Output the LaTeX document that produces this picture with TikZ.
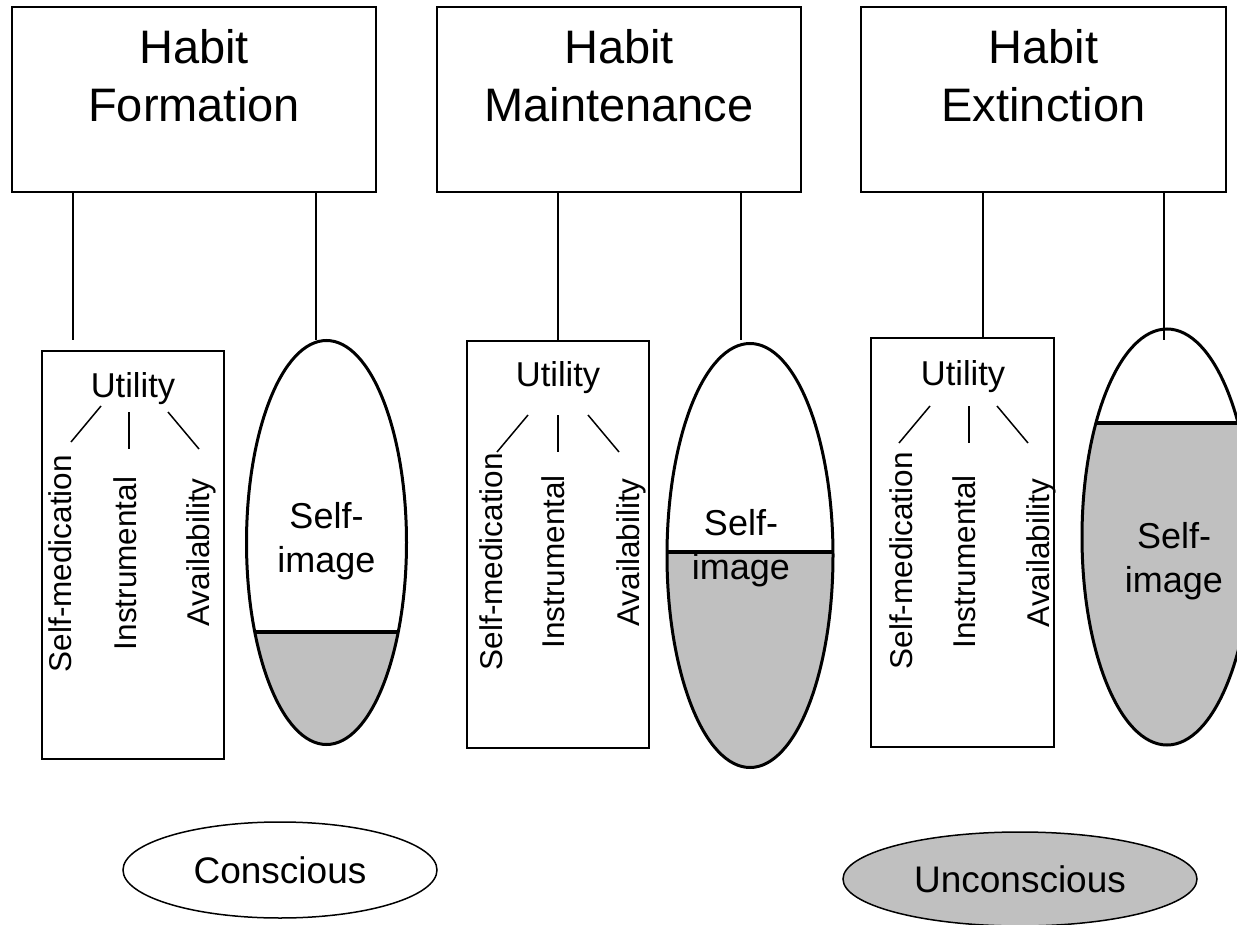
\documentclass[tikz,border=0pt]{standalone}
\usepackage{fontspec}
\setmainfont{Liberation Sans}
\usetikzlibrary{shapes.geometric}
\definecolor{midgray}{HTML}{C0C0C0}
\begin{document}
\begin{tikzpicture}[x=1pt,y=-1pt,
  stagebox/.style={draw, line width=2pt, minimum height=185pt, inner sep=0pt},
  stagetitle/.style={align=center, font=\fontsize{47}{58}\selectfont, inner sep=0pt},
  utilbox/.style={draw, line width=1.5pt, inner sep=0pt},
  utiltitle/.style={anchor=base, font=\fontsize{34.5}{40}\selectfont, inner sep=0pt},
  motive/.style={rotate=90, font=\fontsize{31.5}{38}\selectfont, inner sep=0pt},
  branch/.style={line width=1.5pt},
  link/.style={line width=1.5pt},
  selfimg/.style={ellipse, draw, line width=3pt, inner sep=0pt},
  selftext/.style={align=center, font=\fontsize{36}{44}\selectfont, inner sep=0pt},
  divider/.style={line width=4pt},
  state/.style={ellipse, draw, line width=1.5pt, inner sep=0pt, font=\fontsize{37}{43}\selectfont},
]
\clip (0,0) rectangle (1237,925);
\fill[white] (0,0) rectangle (1237,925);

% ---- stage headers ----
\node[stagebox, minimum width=364pt] (hf) at (194,99.5) {};
\node[stagebox, minimum width=364pt] (hm) at (619,99.5) {};
\node[stagebox, minimum width=365pt] (he) at (1043.5,99.5) {};
\node[stagetitle] (hft) at (194,76) {Habit\\Formation};
\node[stagetitle] (hmt) at (619,76) {Habit\\Maintenance};
\node[stagetitle] (het) at (1043.5,76) {Habit\\Extinction};

% ---- utility boxes ----
\node[utilbox, minimum width=182pt, minimum height=408pt] (ub1) at (133,555) {};
\node[utilbox, minimum width=182pt, minimum height=407pt] (ub2) at (558,544.5) {};
\node[utilbox, minimum width=183pt, minimum height=409pt] (ub3) at (962.5,542.5) {};

\node[utiltitle] (ut1) at (133,397) {Utility};
\node[utiltitle] (ut2) at (558,386) {Utility};
\node[utiltitle] (ut3) at (963,385) {Utility};

\node[motive] (sm1) at (60.5,563.5) {Self-medication};
\node[motive] (in1) at (125,563.5) {Instrumental};
\node[motive] (av1) at (201,552.5) {Availability};
\node[motive] (sm2) at (491,561.5) {Self-medication};
\node[motive] (in2) at (553.7,561.7) {Instrumental};
\node[motive] (av2) at (631.7,552.5) {Availability};
\node[motive] (sm3) at (901,560.8) {Self-medication};
\node[motive] (in3) at (964,561.7) {Instrumental};
\node[motive] (av3) at (1041.7,553.3) {Availability};

% branch strokes under each "Utility"
\coordinate (b1la) at (101,406); \coordinate (b1lb) at (71,442);
\coordinate (b1ma) at (129,412); \coordinate (b1mb) at (129,449);
\coordinate (b1ra) at (168,412); \coordinate (b1rb) at (199,449);
\coordinate (b2la) at (528,415); \coordinate (b2lb) at (497,452);
\coordinate (b2ma) at (558,415); \coordinate (b2mb) at (558,452);
\coordinate (b2ra) at (588,415); \coordinate (b2rb) at (619,452);
\coordinate (b3la) at (930,406); \coordinate (b3lb) at (899,443);
\coordinate (b3ma) at (969,406); \coordinate (b3mb) at (969,443);
\coordinate (b3ra) at (997,406); \coordinate (b3rb) at (1028,443);
\foreach \p in {1,2,3}{
  \draw[branch] (b\p la) -- (b\p lb);
  \draw[branch] (b\p ma) -- (b\p mb);
  \draw[branch] (b\p ra) -- (b\p rb);
}

% ---- self-image ellipses with shaded lower part ----
\begin{scope}
  \clip (326.5,542.5) ellipse [x radius=80, y radius=202];
  \fill[midgray] (240,632) rectangle (410,750);
  \draw[divider] (240,632) -- (410,632);
\end{scope}
\begin{scope}
  \clip (750,555.5) ellipse [x radius=83, y radius=212];
  \fill[midgray] (660,552) rectangle (840,770);
  \draw[divider] (660,552) -- (840,552);
\end{scope}
\begin{scope}
  \clip (1167,537) ellipse [x radius=85, y radius=208];
  \fill[midgray] (1075,423) rectangle (1260,750);
  \draw[divider] (1075,423) -- (1260,423);
\end{scope}
\node[selfimg, minimum width=160pt, minimum height=404pt] (si1) at (326.5,542.5) {};
\node[selfimg, minimum width=166pt, minimum height=424pt] (si2) at (750,555.5) {};
\node[selfimg, minimum width=170pt, minimum height=416pt] (si3) at (1167,537) {};
\node[selftext] (st1) at (326.5,541.3) {Self-\\image};
\node[selftext] (st2) at (741,548.3) {Self-\\image};
\node[selftext] (st3) at (1174,561.3) {Self-\\image};

% ---- links from headers ----
\coordinate (k1) at (73,340);
\coordinate (k3) at (983,338);
\coordinate (s1) at (316,340);
\coordinate (s2) at (741,340);
\coordinate (s3) at (1164,340);
\draw[link] (hf.south -| k1) -- (k1);
\draw[link] (hf.south -| s1) -- (s1);
\draw[link] (hm.south -| ub2.north) -- (ub2.north);
\draw[link] (hm.south -| s2) -- (s2);
\draw[link] (he.south -| k3) -- (ub3.north -| k3);
\draw[link] (he.south -| s3) -- (s3);

% ---- states ----
\node[state, minimum width=314pt, minimum height=96pt] (con) at (280,870) {Conscious};
\node[state, fill=midgray, minimum width=354pt, minimum height=94pt] (unc) at (1020,879) {Unconscious};
\end{tikzpicture}
\end{document}
